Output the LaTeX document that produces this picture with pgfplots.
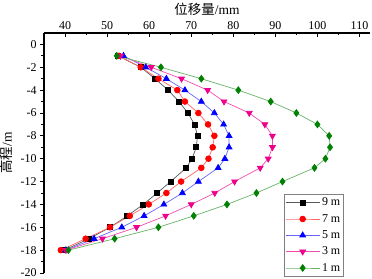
\documentclass[border=0pt]{standalone}
\usepackage{pgfplots}
\pgfplotsset{compat=1.18}
\usepackage{pgfplotstable}
\usepackage{fontspec}
\setmainfont{Liberation Serif}
\newfontfamily\cjk{Noto Sans CJK SC}
\definecolor{dgreen}{RGB}{0,128,0}
\pgfplotstableread{
y s9 s7 s5 s3 s1
-1 52.6 52.8 53.9 53.2 52.3
-2 58.0 58.0 59.2 60.5 62.8
-3 61.4 62.2 64.1 67.7 72.4
-4 64.5 66.7 68.5 73.9 81.2
-5 67.1 68.5 72.4 77.8 88.9
-6 69.2 71.7 75.5 83.8 95.0
-7 70.8 74.0 77.7 87.5 100.0
-8 71.5 75.5 79.0 89.3 102.8
-9 71.2 75.1 79.0 89.3 103.0
-10 70.2 74.1 78.0 88.3 101.9
-10.8 68.8 72.4 76.4 86.4 99.3
-12 65.1 67.6 71.7 80.3 91.7
-13 61.9 64.1 67.9 75.6 85.5
-14 58.6 59.9 63.5 70.0 78.5
-15 54.8 55.4 58.8 63.9 70.6
-16 50.7 50.7 53.5 57.0 62.2
-17 45.7 44.9 46.9 48.9 51.8
-18 39.8 39.0 40.2 40.2 40.8
}\datatab
\begin{document}
\begin{tikzpicture}
\begin{axis}[name=ax,
  scale only axis, width=326bp, height=240bp,
  xmin=35, xmax=112.5, ymin=-20, ymax=1,
  axis x line*=top, axis y line*=left,
  axis line style={line width=1.1pt},
  xtick={40,50,...,110}, ytick={-20,-18,...,0},
  minor x tick num=1, minor y tick num=1,
  xtick align=inside, ytick align=outside,
  major tick length=4bp, minor tick length=2.5bp,
  tick style={line width=0.8pt, black},
  /pgf/number format/assume math mode=true,
  ticklabel style={font=\fontsize{12}{12}\selectfont},
  xlabel={{\cjk 位移量}/mm},
  ylabel={{\cjk 高程}/m},
  label style={font=\fontsize{13.5}{14}\selectfont},
  xlabel style={yshift=-1bp},
  ylabel style={yshift=1bp},
  legend cell align=left,
  legend style={at={(0.736,-0.017)}, anchor=south west, draw=gray, line width=0.8pt,
    font=\fontsize{12}{12}\selectfont, inner xsep=1pt, inner ysep=2pt, row sep=3pt},
  legend image code/.code={\draw[mark repeat=2,mark phase=2] plot coordinates {(0cm,0cm) (0.6cm,0cm) (1.2cm,0cm)};},
  every axis plot/.append style={line width=0.7pt},
]
\addplot[black!65, mark=square*, mark size=2.5pt, mark options={black, fill=black}] table[x=s9,y=y]{\datatab};
\addlegendentry{9 m}
\addplot[red!60, mark=*, mark size=2.9pt, mark options={red, fill=red}] table[x=s7,y=y]{\datatab};
\addlegendentry{7 m}
\addplot[blue!60, mark=triangle*, mark size=3.4pt, mark options={blue, fill=blue}] table[x=s5,y=y]{\datatab};
\addlegendentry{5 m}
\addplot[magenta!70, mark=triangle*, mark size=3.4pt, mark options={magenta, fill=magenta, rotate=180}] table[x=s3,y=y]{\datatab};
\addlegendentry{3 m}
\addplot[dgreen!60, mark=diamond*, mark size=3.4pt, mark options={dgreen, fill=dgreen}] table[x=s1,y=y]{\datatab};
\addlegendentry{1 m}
\end{axis}
\pgfresetboundingbox
\path[use as bounding box] ([shift={(-44bp,-6bp)}]ax.south west) rectangle ([shift={(2bp,33bp)}]ax.north east);
\end{tikzpicture}
\end{document}
